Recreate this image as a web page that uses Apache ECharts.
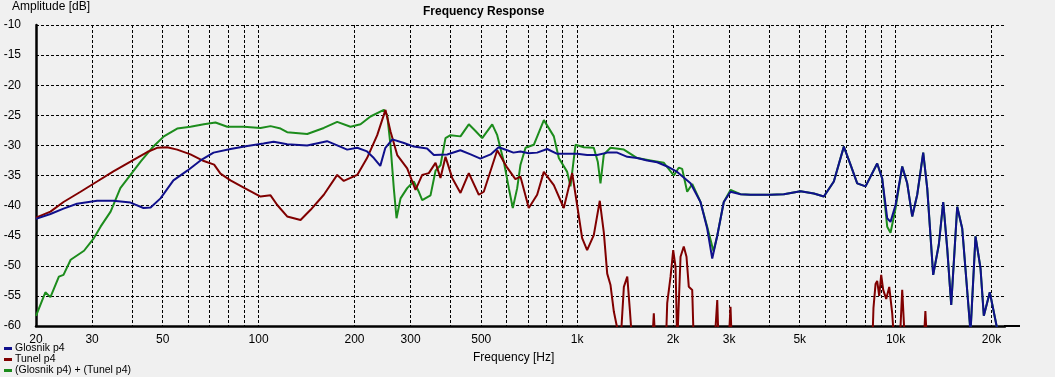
<!DOCTYPE html>
<html>
<head>
<meta charset="utf-8">
<script src="https://cdn.jsdelivr.net/npm/echarts@6/dist/echarts.min.js"></script>
<style>
  html, body { margin: 0; padding: 0; background: #f0f0f0; }
  #chart { width: 1055px; height: 377px; }
</style>
</head>
<body>
<div id="chart"></div>
<script>
// [Hz, dB]
const glosnik = [
  [20, -42.2], [22.2, -41.4], [24.4, -40.5], [26.9, -39.7], [31.1, -39.2], [35, -39.2], [39.6, -39.5],
  [43.5, -40.4], [45.8, -40.3], [49.2, -38.8], [54, -35.8], [59.7, -34.2], [65.7, -32.5], [72.2, -31.2],
  [81.6, -30.6], [92.1, -30.1], [103.6, -29.7], [111.4, -29.4], [117.2, -29.6], [122.9, -29.8], [142, -30.0],
  [164, -29.3], [176.5, -30.0], [189.7, -30.7], [204, -30.4], [219, -31.0], [230, -32.1], [241, -33.4],
  [250, -30.4], [263, -29.0], [286, -29.6], [307, -30.2], [338, -30.5], [355, -31.6], [391, -31.5],
  [430, -30.8], [463, -31.5], [497, -32.2], [535, -31.5], [567, -30.3], [603, -30.8], [631, -31.2],
  [664, -31.0], [704, -31.3], [749, -31.2], [805, -30.6], [866, -31.4], [931, -31.4], [1000, -31.4],
  [1075, -31.6], [1156, -31.6], [1243, -31.2], [1336, -31.2], [1437, -31.9], [1544, -32.1], [1660, -32.5],
  [1784, -32.8], [1918, -33.5], [2062, -34.4], [2270, -36.3], [2440, -39.4],
  [2561, -43.8], [2656, -48.8], [2754, -45.0], [2887, -39.4], [3031, -37.7], [3258, -38.1], [3502, -38.2],
  [3765, -38.2], [4047, -38.2], [4457, -38.1], [5028, -37.6], [5537, -38.0], [5952, -38.5], [6397, -36.0],
  [6877, -30.2], [7217, -33.2], [7576, -36.3], [8045, -36.8], [8752, -33.0], [9075, -35.5], [9410, -42.1],
  [9638, -42.7], [9993, -39.9], [10488, -33.5], [10874, -36.3], [11274, -41.8], [11689, -38.2], [12207, -31.2],
  [12566, -37.1], [13121, -51.5], [13664, -46.5], [14106, -39.4], [14521, -47.1], [14946, -56.5], [15609, -40.2],
  [16185, -43.8], [17184, -61], [17816, -45.1], [18471, -50.4], [18919, -58.3], [19757, -54.4], [20842, -60.5]
]

const tunel = [
  [20, -42], [22.2, -41], [24.4, -39.4], [27.6, -37.7], [31.1, -36], [35, -34.3], [39.6, -32.7], [44.7, -31.1],
  [48, -30.4], [51.6, -30.3], [55.5, -30.7], [61.1, -31.5], [67.3, -32.6], [72.5, -33.2], [75.9, -34.7],
  [81.6, -35.8], [89.8, -37], [101.4, -38.5], [109, -38.3], [114.4, -39.9], [122.9, -41.8], [135.4, -42.4],
  [145.6, -40.7], [160.2, -38.2], [176.5, -34.9], [185.1, -35.9], [204, -34.9], [219, -32.1], [235.7, -28.3],
  [250.2, -24.1], [259.5, -27.7], [272.4, -31.6], [292.7, -33.8], [310.9, -37.4], [326.3, -34.9], [342.3, -34.6],
  [359.3, -32.9], [372.4, -35.4], [386.1, -31.9], [405.3, -35.4], [430.3, -37.9], [457, -34.6], [491.3, -38.2],
  [509.3, -37.7], [561.2, -30.8], [603.2, -33.7], [640, -35.6], [664, -35.2], [705, -40.4], [749, -38.2],
  [786, -34.4], [845, -36.6], [908, -40.4], [965, -34.6], [1000, -39.9], [1037, -45.4], [1075, -47.4],
  [1128, -44.9], [1178, -39.2], [1213, -44.5], [1243, -51.3], [1273, -53.2], [1304, -57.6], [1368, -63],
  [1402, -53.5], [1437, -51.8], [1464, -57.3], [1490, -63], [1720, -63], [1741, -57.9], [1760, -63],
  [1900, -63], [1918, -56.2], [1965, -51.8], [2003, -47.4], [2037, -50.2], [2062, -63], [2112, -48.5],
  [2162, -46.8], [2205, -48.5], [2242, -53.5], [2298, -54], [2324, -63],
  [2700, -63], [2754, -55.7], [2780, -63], [2990, -63], [3031, -56.8], [3060, -63], [8450, -63], [8520, -57],
  [8650, -53], [8752, -52.5], [8880, -55], [9010, -51.5], [9140, -54], [9342, -55.5], [9549, -53.5],
  [9760, -58], [9900, -63], [10300, -63], [10488, -54], [10700, -63], [12250, -63], [12400, -57.5],
  [12550, -63], [20000, -63]
]

const summed = [
  [20, -58.3], [21.4, -54.4], [22.2, -55.2], [23.6, -51.8], [24.4, -51.5], [25.7, -49], [28.3, -47.5],
  [30.4, -45.4], [31.9, -43.5], [34.3, -41], [36.8, -37.1], [39.6, -34.9], [42.6, -32.7], [46.3, -30.4],
  [50.4, -28.5], [55.5, -27.2], [61.1, -26.9], [67.3, -26.5], [73.2, -26.2], [79.7, -26.9], [89.8, -26.9],
  [101.4, -27.1], [109, -26.8], [117.2, -27.2], [122.9, -27.8], [142.1, -28.1], [160.2, -27.1], [176.5, -26.1],
  [194.3, -26.9], [208.9, -26.5], [224.5, -25.2], [247.2, -24.1], [253.4, -25], [259.5, -30], [265.7, -37.1],
  [271, -42.1], [279, -38.8], [292.7, -37.1], [307, -36], [318.4, -37.7], [326.3, -39.1], [346.5, -38.3],
  [359.3, -34.2], [372.4, -33.3], [386.1, -28.8], [400.3, -28.3], [430.3, -28.5], [457, -26.5], [479.7, -27.6],
  [503.5, -28.8], [541.3, -26.5], [561.2, -28.3], [588.6, -32.7], [610.3, -37.1], [628.1, -40.4], [648.4, -37.1],
  [664, -33.2], [688.6, -30.4], [731.2, -29.9], [786.3, -25.8], [845.1, -28.5], [876, -32.1], [930.6, -34.4],
  [953.2, -36.8], [988.3, -29.9], [1049.5, -30.3], [1128, -30.4], [1161, -32.7], [1184, -36.3], [1213, -31.5],
  [1273, -30.4], [1402, -30.7], [1544, -32.1], [1700, -32.5], [1872, -32.9], [2012, -35], [2085, -33.7],
  [2137, -33.9], [2216, -37.7], [2298, -36.4], [2440, -39.4], [2561, -43.5], [2680, -47.6], [2754, -45],
  [2887, -39.4], [3031, -37.4], [3258, -38.1], [3502, -38.2], [3765, -38.2], [4047, -38.2], [4457, -38.1],
  [5028, -37.6], [5537, -38], [5952, -38.5], [6397, -36], [6877, -30.2], [7217, -33.2], [7576, -36.3],
  [8045, -36.8], [8752, -33], [9075, -35.5], [9410, -43.5], [9638, -44.5], [9993, -40.5], [10488, -33.5],
  [10874, -36.3], [11274, -41.8], [11689, -38.2], [12207, -31.2], [12566, -37.1], [13121, -51.5], [13664, -46.5],
  [14106, -39.4], [14521, -47.1], [14946, -56.5], [15609, -40.2], [16185, -43.8], [17184, -61], [17816, -45.1],
  [18471, -50.4], [18919, -58.3], [19757, -54.4], [20842, -60.5]
]

// grid lines and labels of the frequency axis
const gridFreqs = [20, 30, 40, 50, 60, 70, 80, 90, 100, 200, 300, 400, 500, 600, 700, 800, 900,
  1000, 2000, 3000, 4000, 5000, 6000, 7000, 8000, 9000, 10000, 20000]
const labelFreqs = [20, 30, 50, 100, 200, 300, 500, 1000, 2000, 3000, 5000, 10000, 20000]
const freqMin = 20
const freqMax = 22050

const font = 'Liberation Sans, Arial, sans-serif'
const dashed = { color: '#000', width: 1, type: [3, 2] }

// x is drawn as log10(f) on a value axis
const toLog = arr => arr.map(p => [Math.log10(p[0]), p[1]])

const chart = echarts.init(document.getElementById('chart'))

const option = {
  backgroundColor: '#f0f0f0',
  animation: false,
  textStyle: { fontFamily: font },
  title: {
    text: 'Frequency Response',
    left: 423,
    top: 6,
    padding: 0,
    textStyle: { fontSize: 12, fontWeight: 'bold', color: '#000', fontFamily: font }
  },
  legend: {
    orient: 'vertical',
    left: 4,
    top: 343,
    padding: 0,
    itemGap: 0,
    itemWidth: 8,
    itemHeight: 3,
    icon: 'rect',
    textStyle: { fontSize: 10.5, color: '#000', lineHeight: 11, padding: [0, 0, 0, -2] },
    data: ['Glosnik p4', 'Tunel p4', '(Glosnik p4) + (Tunel p4)']
  },
  graphic: [
    { type: 'text', left: 12, top: 1, style: { text: 'Amplitude [dB]', fill: '#000', font: '12px ' + font } },
    { type: 'text', left: 473, top: 352, style: { text: 'Frequency [Hz]', fill: '#000', font: '12px ' + font } },
    // bottom axis runs a little past the plot
    { type: 'rect', shape: { x: 1004, y: 325, width: 16, height: 2 }, style: { fill: '#000' } }
  ],
  grid: { left: 36, top: 25, width: 969, height: 301 },
  xAxis: {
    type: 'value',
    min: Math.log10(freqMin),
    max: Math.log10(freqMax),
    axisLine: { show: true, onZero: false, lineStyle: { color: '#000', width: 2.5 } },
    axisTick: { show: false, customValues: gridFreqs.map(f => Math.log10(f)) },
    splitLine: { show: true, lineStyle: dashed },
    axisLabel: {
      customValues: labelFreqs.map(f => Math.log10(f)),
      margin: 8,
      fontSize: 12,
      color: '#000',
      formatter: v => {
        const f = Math.round(Math.pow(10, v))
        return f >= 1000 ? (f / 1000) + 'k' : String(f)
      }
    }
  },
  yAxis: {
    type: 'value',
    min: -60,
    max: -10,
    interval: 5,
    axisLine: { show: true, lineStyle: { color: '#000', width: 2.5 } },
    axisTick: { show: false },
    splitLine: { show: true, lineStyle: dashed },
    axisLabel: { margin: 15, fontSize: 12, color: '#000' }
  },
  series: [
    {
      name: 'Glosnik p4',
      type: 'line',
      data: toLog(glosnik),
      showSymbol: false,
      z: 4,
      color: '#10108c',
      lineStyle: { width: 2 }
    },
    {
      name: 'Tunel p4',
      type: 'line',
      data: toLog(tunel),
      showSymbol: false,
      z: 3,
      color: '#800000',
      lineStyle: { width: 2 }
    },
    {
      name: '(Glosnik p4) + (Tunel p4)',
      type: 'line',
      data: toLog(summed),
      showSymbol: false,
      z: 2,
      color: '#1c8c1c',
      lineStyle: { width: 2 }
    }
  ]
}

chart.setOption(option)
</script>
</body>
</html>
